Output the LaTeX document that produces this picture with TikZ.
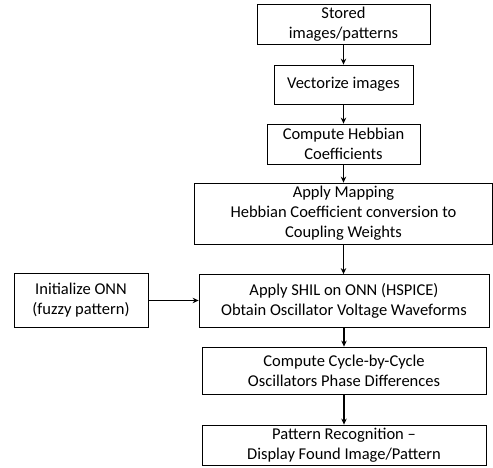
\documentclass[tikz,border=0pt]{standalone}
\usepackage{fontspec}
\setmainfont{Carlito}
\usetikzlibrary{arrows.meta}
\begin{document}
\begin{tikzpicture}[x=1pt,y=-1pt,
  box/.style={draw=black,line width=0.8pt,align=center,inner sep=0pt,font=\fontsize{16.5}{20}\selectfont},
  arr/.style={-{Stealth[length=6pt,width=5.5pt]},line width=1.6pt}]
\useasboundingbox (0,0) rectangle (493,468);
\node[box,minimum width=173pt,minimum height=40pt] (b1) at (343.5,24) {Stored\\images/patterns};
\node[box,minimum width=139pt,minimum height=39pt] (b2) at (343.5,84.5) {Vectorize images};
\node[box,minimum width=153pt,minimum height=40pt] (b3) at (343.5,144) {Compute Hebbian\\Coefficients};
\node[box,minimum width=298pt,minimum height=61pt] (b4) at (343.5,213.5) {Apply Mapping\\Hebbian Coefficient conversion to\\Coupling Weights};
\node[box,minimum width=290pt,minimum height=53pt] (b5) at (344,301) {Apply SHIL on ONN (HSPICE)\\Obtain Oscillator Voltage Waveforms};
\node[box,minimum width=134pt,minimum height=54pt] (bl) at (81,300.5) {Initialize ONN\\(fuzzy pattern)};
\node[box,minimum width=284pt,minimum height=47pt] (b6) at (344,370.5) {Compute Cycle-by-Cycle\\Oscillators Phase Differences};
\node[box,minimum width=284pt,minimum height=40pt] (b7) at (344,445) {Pattern Recognition --\\Display Found Image/Pattern};
\draw[arr] (b1.south) -- (b1.south |- b2.north);
\draw[arr] (b2.south) -- (b2.south |- b3.north);
\draw[arr] (b3.south) -- (b3.south |- b4.north);
\draw[arr] (b4.south) -- (b4.south |- b5.north);
\draw[arr] (b5.south) -- (b5.south |- b6.north);
\draw[arr] (b6.south) -- (b6.south |- b7.north);
\draw[arr] (bl.east) -- (bl.east -| b5.west);
\end{tikzpicture}
\end{document}
